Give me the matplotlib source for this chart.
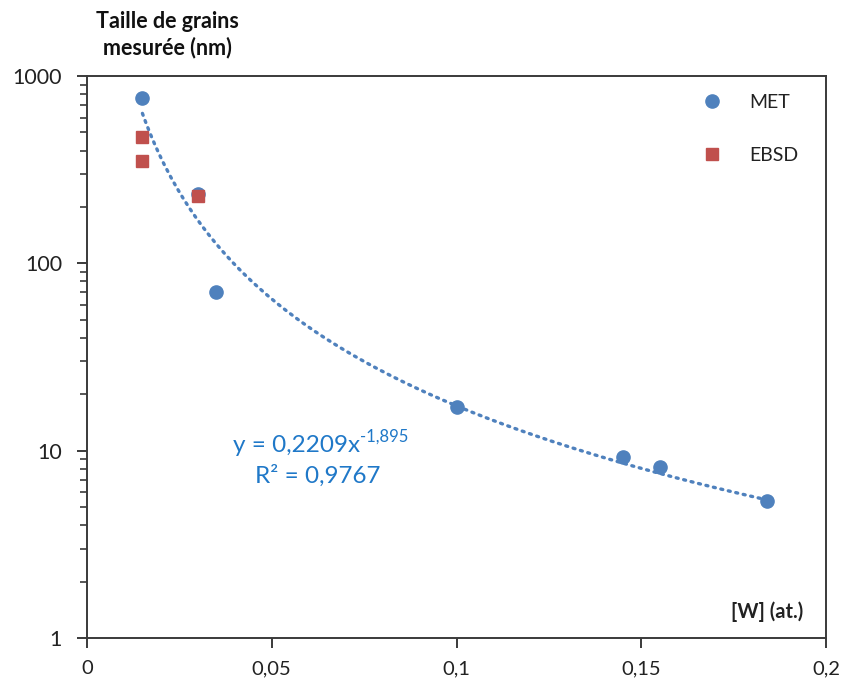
import numpy as np
import matplotlib
matplotlib.use("Agg")
import matplotlib.pyplot as plt
from matplotlib.ticker import FixedLocator, LogLocator, NullFormatter

plt.rcParams['font.family'] = ['Lato', 'DejaVu Sans']

# Data
met_x = [0.015, 0.030, 0.035, 0.100, 0.145, 0.155, 0.184]
met_y = [760, 235, 70, 17, 9.3, 8.2, 5.4]
ebsd_x = [0.015, 0.015, 0.030]
ebsd_y = [470, 350, 228]
fit_a = 0.2209
fit_b = -1.895
fit_r2 = 0.9767
x_ticks = [0, 0.05, 0.1, 0.15, 0.2]
x_tick_labels = ["0", "0,05", "0,1", "0,15", "0,2"]
y_ticks = [1, 10, 100, 1000]
y_tick_labels = ["1", "10", "100", "1000"]

met_color = "#4F81BD"
ebsd_color = "#C0504D"
eq_color = "#1F78C8"

fig = plt.figure(figsize=(8.5, 6.84), dpi=100)
ax = fig.add_axes([87/850, 1 - 638/684, (826-87)/850, (638-76)/684])

xf = np.linspace(min(met_x), max(met_x), 200)
ax.plot(xf, fit_a * xf ** fit_b, linestyle=(0, (0.6, 1.7)), color=met_color,
        linewidth=2.4, dash_capstyle='round', zorder=2)

ax.plot(met_x, met_y, 'o', color=met_color, markersize=9.5, label="MET", zorder=3,
        linestyle='none')
ax.plot(ebsd_x, ebsd_y, 's', color=ebsd_color, markersize=9.2, label="EBSD", zorder=4,
        linestyle='none')

ax.set_yscale('log')
ax.set_xlim(0, 0.2)
ax.set_ylim(1, 1000)
ax.set_xticks(x_ticks)
ax.set_xticklabels(x_tick_labels)
ax.yaxis.set_major_locator(FixedLocator(y_ticks))
ax.set_yticklabels(y_tick_labels)
ax.yaxis.set_minor_locator(LogLocator(base=10, subs=np.arange(2, 10)))
ax.yaxis.set_minor_formatter(NullFormatter())

for sp in ax.spines.values():
    sp.set_color("#3a3a3a")
    sp.set_linewidth(1.4)

ax.tick_params(axis='x', which='major', labelsize=14.5, colors="#3a3a3a",
               labelcolor="#222222", length=7, width=1.4, direction='out', pad=9)
ax.tick_params(axis='y', which='major', labelsize=15.5, colors="#3a3a3a",
               labelcolor="#222222", length=7, width=1.4, direction='out', pad=11)
ax.tick_params(axis='y', which='minor', length=5, width=1.2, colors="#3a3a3a", direction='out')

leg = ax.legend(loc='upper left', bbox_to_anchor=(0.833, 0.968), frameon=False,
                fontsize=14, labelspacing=1.86, handletextpad=1.4,
                handlelength=1.0, borderaxespad=0, borderpad=0)
for t in leg.get_texts():
    t.set_color("#222222")

fig.text(167/850, 1 - 21/684, "Taille de grains", ha='center', va='center',
         fontsize=15.5, fontweight='bold', color="#111111")
fig.text(167/850, 1 - 48/684, "mesurée (nm)", ha='center', va='center',
         fontsize=15.5, fontweight='bold', color="#111111")

ax.text(0.969, 0.047, "[W] (at.)", transform=ax.transAxes, ha='right', va='center',
        fontsize=14.5, fontweight='bold', color="#222222")

eq = ax.text(0.1976, 0.343, "y = 0,2209x", transform=ax.transAxes, ha='left',
             va='center', fontsize=17.5, color=eq_color)
ax.annotate("-1,895", xy=(1.0, 0.55), xycoords=eq, ha='left', va='bottom',
            fontsize=12, color=eq_color, annotation_clip=False)
ax.text(0.3126, 0.288, "R² = 0,9767", transform=ax.transAxes, ha='center',
        va='center', fontsize=17.5, color=eq_color)

fig.savefig("out.png", dpi=100)
